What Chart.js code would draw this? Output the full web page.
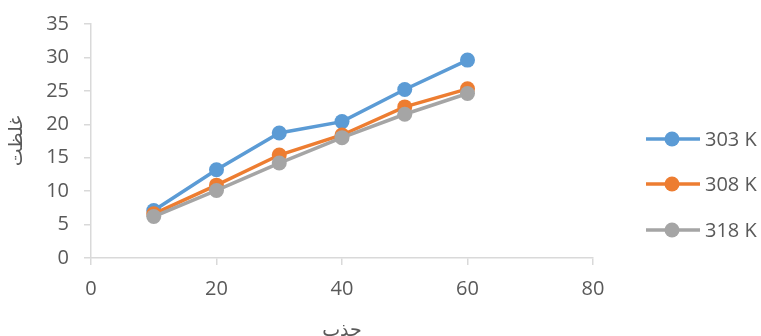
<!DOCTYPE html>
<html>
<head>
<meta charset="utf-8">
<script src="https://cdn.jsdelivr.net/npm/chart.js@4/dist/chart.umd.min.js"></script>
<style>
  html, body { margin: 0; padding: 0; background: #ffffff; }
  #wrap { width: 761px; height: 336px; position: relative; }
</style>
</head>
<body>
<div id="wrap"><canvas id="c"></canvas></div>
<script>
// x values (جذب) and concentration series (غلظت) at three temperatures
const xValues = [10, 20, 30, 40, 50, 60];
const seriesLabels = ['303 K', '308 K', '318 K'];
const series303 = [7.1, 13.2, 18.7, 20.4, 25.2, 29.6];
const series308 = [6.6, 10.9, 15.4, 18.4, 22.6, 25.3];
const series318 = [6.2, 10.1, 14.2, 18.0, 21.5, 24.6];
const seriesColors = ['#5B9BD5', '#ED7D31', '#A5A5A5'];
const xTicks = [0, 20, 40, 60, 80];
const yTicks = [0, 5, 10, 15, 20, 25, 30, 35];

const textColor = '#595959';
const axisColor = '#D9D9D9';
const tickFont = { family: '"Open Sans", sans-serif', size: 20 };
const arFont = { family: '"DejaVu Sans", sans-serif', size: 19 };

const allSeries = [series303, series308, series318];
const datasets = allSeries.map((vals, i) => ({
  label: seriesLabels[i],
  data: xValues.map((x, j) => ({ x: x, y: vals[j] })),
  borderColor: seriesColors[i],
  backgroundColor: seriesColors[i],
  borderWidth: 3.5,
  pointRadius: 7.5,
  pointHoverRadius: 7.5,
  pointBorderWidth: 0,
  tension: 0,
  order: allSeries.length - i
}));

// legend on the right: line + marker + label
const sideLegend = {
  id: 'sideLegend',
  afterDraw(chart) {
    const ctx = chart.ctx;
    const rows = [139, 184, 230];
    ctx.save();
    chart.data.datasets.forEach((ds, i) => {
      const y = rows[i];
      ctx.strokeStyle = ds.borderColor;
      ctx.lineWidth = 3.5;
      ctx.beginPath();
      ctx.moveTo(646, y);
      ctx.lineTo(700, y);
      ctx.stroke();
      ctx.fillStyle = ds.backgroundColor;
      ctx.beginPath();
      ctx.arc(672, y, 7.5, 0, Math.PI * 2);
      ctx.fill();
      ctx.fillStyle = textColor;
      ctx.font = tickFont.size + 'px ' + tickFont.family;
      ctx.textAlign = 'left';
      ctx.textBaseline = 'middle';
      ctx.fillText(ds.label, 705, y + 1);
    });
    ctx.restore();
  }
};

new Chart(document.getElementById('c'), {
  type: 'line',
  data: { datasets },
  plugins: [sideLegend],
  options: {
    responsive: true,
    maintainAspectRatio: false,
    animation: false,
    layout: { padding: { left: 0, right: 168, top: 24, bottom: 0 } },
    plugins: { legend: { display: false }, tooltip: { enabled: false } },
    scales: {
      x: {
        type: 'linear',
        min: 0, max: 80,
        afterFit(scale) { scale.height = 78; scale.paddingLeft = 0; scale.paddingRight = 0; },
        afterBuildTicks(scale) { scale.ticks = xTicks.map(v => ({ value: v })); },
        ticks: { color: textColor, font: tickFont, padding: 12, maxRotation: 0 },
        grid: { drawOnChartArea: false, drawTicks: true, tickLength: 7, color: axisColor, lineWidth: 1.5 },
        border: { color: axisColor, width: 1.5 },
        title: { display: true, text: 'جذب', color: textColor, font: arFont, padding: { top: 0, bottom: -6 } }
      },
      y: {
        min: 0, max: 35,
        afterFit(scale) { scale.width = 91; scale.paddingTop = 10; scale.paddingBottom = 10; },
        afterBuildTicks(scale) { scale.ticks = yTicks.map(v => ({ value: v })); },
        ticks: { color: textColor, font: tickFont, padding: 15 },
        grid: { drawOnChartArea: false, drawTicks: true, tickLength: 7, color: axisColor, lineWidth: 1.5 },
        border: { color: axisColor, width: 1.5 },
        title: { display: true, text: 'غلظت', color: textColor, font: arFont, padding: { top: 6, bottom: 0 } }
      }
    }
  }
});
</script>
</body>
</html>
